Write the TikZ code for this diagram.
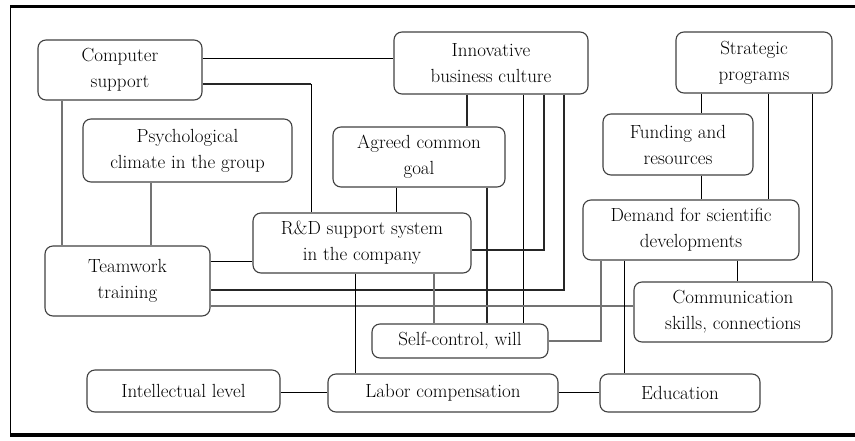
\documentclass[tikz,border=0pt]{standalone}
\begin{document}
\begin{tikzpicture}[x=1pt,y=-1pt,
  box/.style={draw=black!75, line width=1.1pt, rounded corners=8pt, align=center,
    inner sep=0pt, font=\fontsize{19}{26}\selectfont},
  thinl/.style={line width=0.9pt, black},
  thickl/.style={line width=2pt, black!85},
  grayl/.style={line width=1.1pt, black!55},
  graythick/.style={line width=2pt, black!55}]
\useasboundingbox (0,0) rectangle (855,440);
\draw[line width=3pt] (10,6) -- (855,6);
\draw[line width=4pt] (10,435) -- (855,435);
\draw[line width=1pt] (10,6) -- (10,435);

\node[box, minimum width=164pt, minimum height=60pt] (cs) at (120,70) {Computer\\support};
\node[box, minimum width=194pt, minimum height=62pt] (inn) at (491,63) {Innovative\\business culture};
\node[box, minimum width=156pt, minimum height=61pt] (str) at (754,62.5) {Strategic\\programs};
\node[box, minimum width=209pt, minimum height=63pt] (psy) at (187.5,150.5) {Psychological\\climate in the group};
\node[box, minimum width=172pt, minimum height=60pt] (agr) at (419,157) {Agreed common\\goal};
\node[box, minimum width=150pt, minimum height=61pt] (fun) at (678,144.5) {Funding and\\resources};
\node[box, minimum width=216pt, minimum height=60pt] (dem) at (691,230) {Demand for scientific\\developments};
\node[box, minimum width=218pt, minimum height=60pt] (rd) at (362,243) {R\&D support system\\in the company};
\node[box, minimum width=165pt, minimum height=70pt] (tw) at (127.5,281) {Teamwork\\training};
\node[box, minimum width=198pt, minimum height=60pt] (com) at (733,312) {Communication\\skills, connections};
\node[box, minimum width=176pt, minimum height=34pt] (sc) at (460,341) {Self-control, will};
\node[box, minimum width=193pt, minimum height=42pt] (int) at (183.5,391) {Intellectual level};
\node[box, minimum width=230pt, minimum height=38pt] (lab) at (443,393) {Labor compensation};
\node[box, minimum width=160pt, minimum height=38pt] (edu) at (680,393) {Education};

\coordinate (k1) at (311,84);
\coordinate (k2) at (544,250);
\coordinate (k3) at (564,290);
\coordinate (k4) at (601,341);

% Computer support
\draw[thinl] (cs.east |- 0,58) -- (inn.west |- 0,58);
\draw[thickl] (cs.east |- k1) -- (k1);
\draw[thinl] (k1) -- (k1 |- rd.north);
\draw[graythick] (62,0 |- cs.south) -- (62,0 |- tw.north);
\draw[grayl] (151,0 |- psy.south) -- (151,0 |- tw.north);

% Innovative
\draw[thickl] (467,0 |- inn.south) -- (467,0 |- agr.north);
\draw[thinl] (523,0 |- inn.south) -- (523,0 |- sc.north);
\draw[thickl] (k2 |- inn.south) -- (k2) -- (rd.east |- k2);
\draw[thickl] (k3 |- inn.south) -- (k3) -- (tw.east |- k3);

% Agreed
\draw[thinl] (396,0 |- agr.south) -- (396,0 |- rd.north);
\draw[thickl] (487,0 |- agr.south) -- (487,0 |- sc.north);

% Teamwork
\draw[thinl] (tw.east |- 0,261) -- (rd.west |- 0,261);
\draw[grayl] (tw.east |- 0,306) -- (com.west |- 0,306);

% R&D
\draw[thinl] (355,0 |- rd.south) -- (355,0 |- lab.north);
\draw[grayl] (434,0 |- rd.south) -- (434,0 |- sc.north);

% Self-control
\draw[grayl] (sc.east |- k4) -- (k4) -- (k4 |- dem.south);

% Demand
\draw[thinl] (624,0 |- dem.south) -- (624,0 |- edu.north);
\draw[thinl] (737,0 |- dem.south) -- (737,0 |- com.north);

% Strategic
\draw[thinl] (701,0 |- str.south) -- (701,0 |- fun.north);
\draw[thinl] (768,0 |- str.south) -- (768,0 |- dem.north);
\draw[thinl] (812,0 |- str.south) -- (812,0 |- com.north);

% Funding
\draw[thinl] (701,0 |- fun.south) -- (701,0 |- dem.north);

% Bottom row
\draw[thinl] (int.east |- 0,392) -- (lab.west |- 0,392);
\draw[thinl] (lab.east |- 0,392) -- (edu.west |- 0,392);
\end{tikzpicture}
\end{document}
